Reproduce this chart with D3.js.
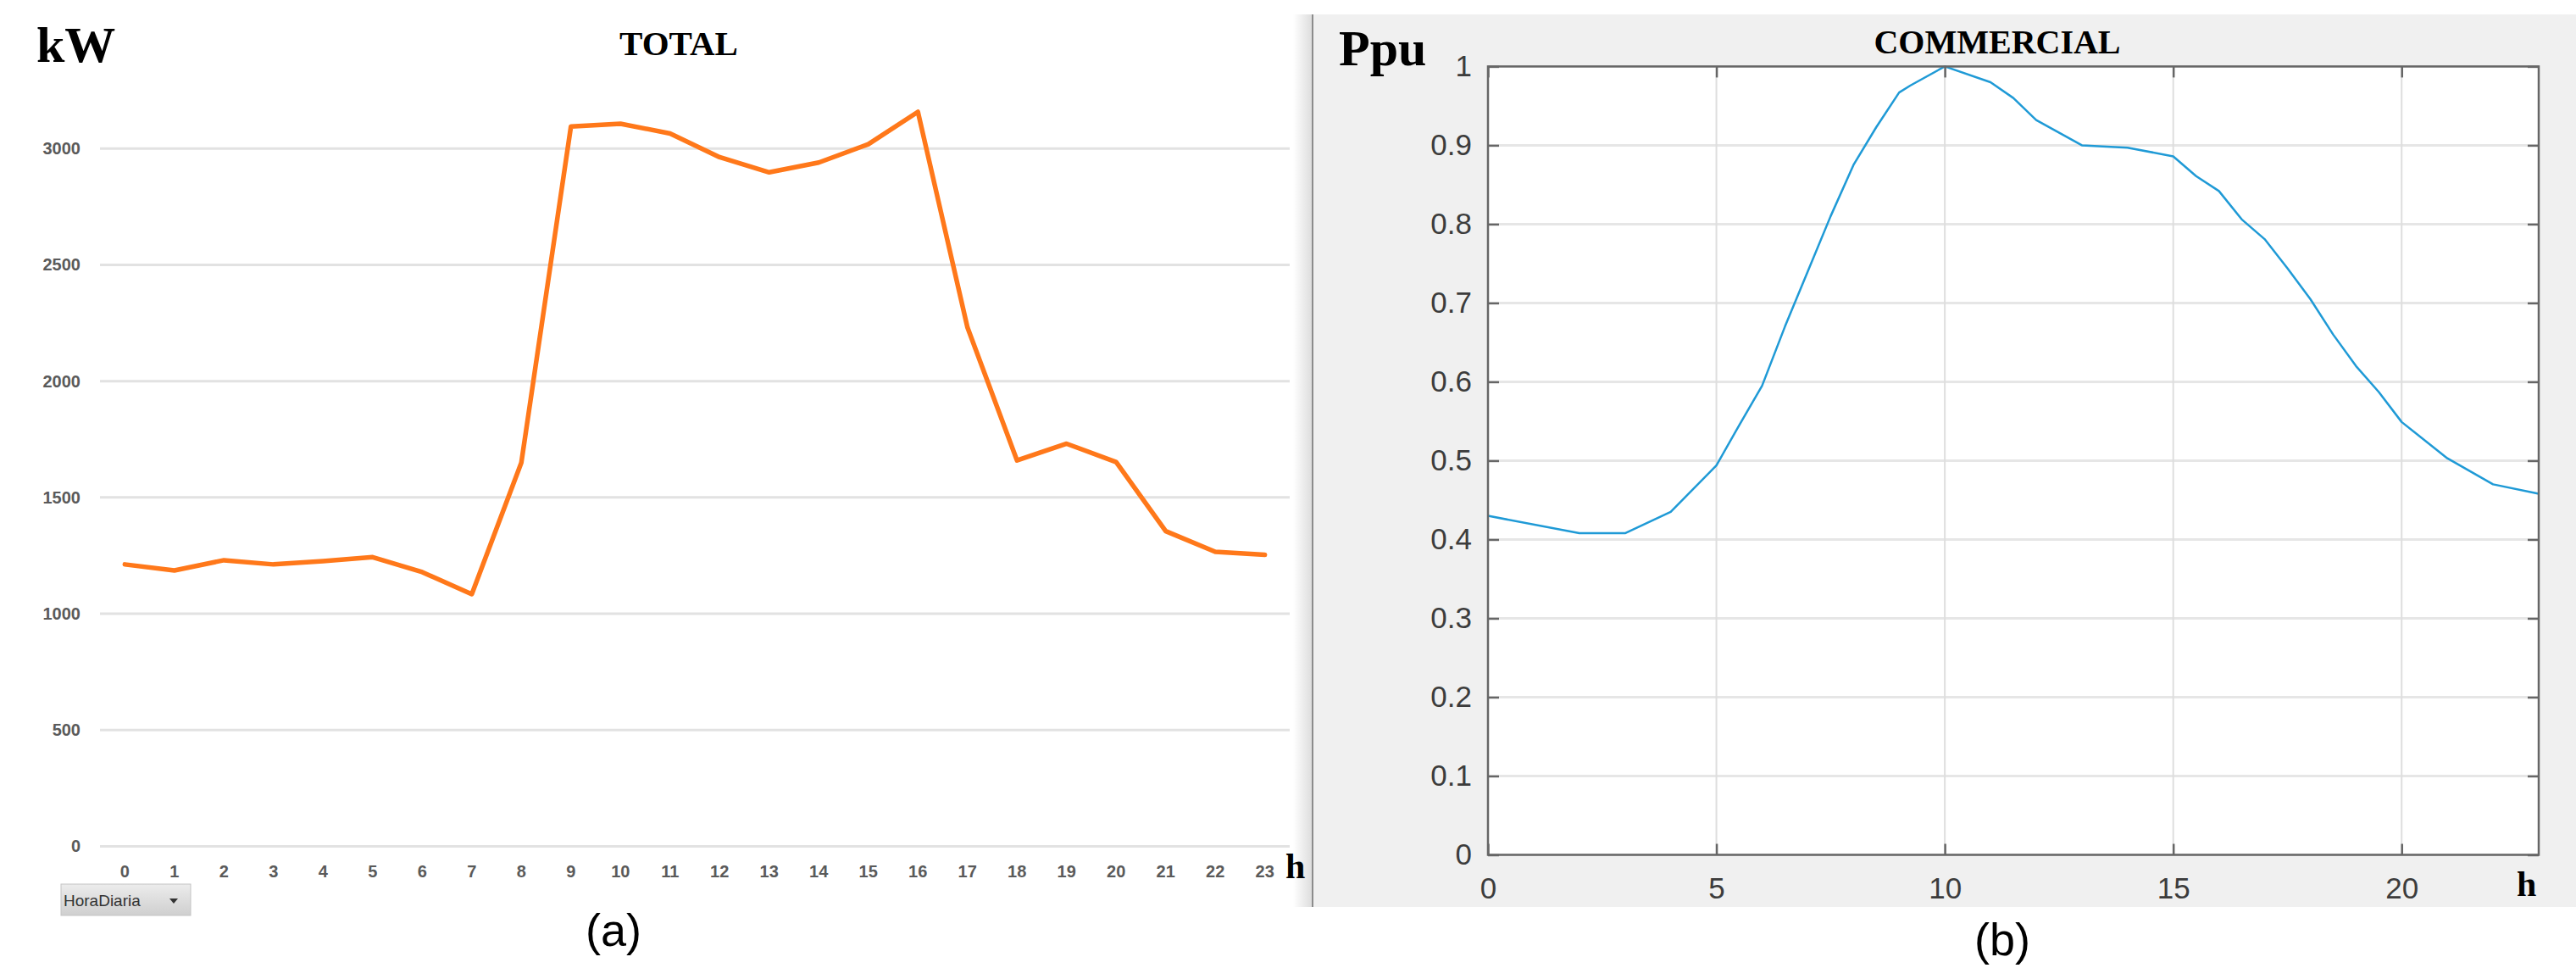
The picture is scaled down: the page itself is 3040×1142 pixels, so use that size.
<!DOCTYPE html>
<html>
<head>
<meta charset="utf-8">
<script src="https://cdn.jsdelivr.net/npm/d3@7"></script>
<style>
  body { margin: 0; background: #fff; }
  svg { display: block; }
</style>
</head>
<body>
<div id="vis"></div>
<script>
// ---- data ----
const totalHours = d3.range(0, 24);
const totalKW = [1212, 1186, 1230, 1212, 1226, 1243, 1179, 1084, 1650, 3095, 3107, 3065,
                 2963, 2898, 2940, 3019, 3158, 2231, 1659, 1731, 1652, 1355, 1266, 1253];
const totalTicks = [0, 500, 1000, 1500, 2000, 2500, 3000];

const commHours = [0, 2, 3, 4, 5, 5.5, 6, 6.5, 7, 7.5, 8, 8.5, 9, 9.25, 10, 11, 11.5, 12,
                   13, 14, 15, 15.5, 16, 16.5, 17, 17.5, 18, 18.5, 19, 19.5, 20, 21, 22, 23];
const commPpu = [0.430, 0.408, 0.408, 0.435, 0.494, 0.545, 0.595, 0.670, 0.740, 0.810, 0.875,
                 0.923, 0.967, 0.976, 1.000, 0.980, 0.960, 0.932, 0.900, 0.897, 0.886, 0.861,
                 0.842, 0.806, 0.781, 0.744, 0.705, 0.660, 0.620, 0.587, 0.549, 0.503, 0.470, 0.458];
const commYTicks = d3.range(0, 11).map(d => d / 10);
const commXTicks = [0, 5, 10, 15, 20];

const W = 3040, H = 1142;
const serif = "'Liberation Serif', 'Times New Roman', serif";
const sans = "'Liberation Sans', Arial, sans-serif";

let svg = d3.select("#vis")
    .append("svg")
    .attr("width", W)
    .attr("height", H);

svg.append("rect").attr("width", W).attr("height", H).attr("fill", "#fff");

let defs = svg.append("defs");
let shade = defs.append("linearGradient").attr("id", "shade");
shade.append("stop").attr("offset", "0").attr("stop-color", "#fff");
shade.append("stop").attr("offset", "1").attr("stop-color", "#dcdcdc");
let btn = defs.append("linearGradient").attr("id", "btn")
    .attr("x1", 0).attr("x2", 0).attr("y1", 0).attr("y2", 1);
btn.append("stop").attr("offset", "0").attr("stop-color", "#ececec");
btn.append("stop").attr("offset", "1").attr("stop-color", "#cfcfcf");

// soft edge between the two panels
svg.append("rect")
    .attr("x", 1526).attr("y", 17).attr("width", 23).attr("height", 1053)
    .attr("fill", "url(#shade)");

////////// (a) TOTAL //////////

let xa = d3.scalePoint()
    .domain(totalHours)
    .range([147.3, 1492.7]);

let ya = d3.scaleLinear()
    .domain([0, 3000])
    .range([998.4, 175.3]);

let left = svg.append("g").attr("class", "total");

left.selectAll(".grid")
    .data(totalTicks)
    .enter()
    .append("line")
    .attr("class", "grid")
    .attr("x1", 118).attr("x2", 1522)
    .attr("y1", d => ya(d)).attr("y2", d => ya(d))
    .attr("stroke", "#e2e2e2")
    .attr("stroke-width", 3);

left.selectAll(".ylab")
    .data(totalTicks)
    .enter()
    .append("text")
    .attr("class", "ylab")
    .attr("x", 95)
    .attr("y", d => ya(d))
    .attr("dy", "0.35em")
    .attr("text-anchor", "end")
    .attr("font-family", sans)
    .attr("font-weight", "bold")
    .attr("font-size", 20)
    .attr("fill", "#5a5a5a")
    .text(d => d);

left.selectAll(".xlab")
    .data(totalHours)
    .enter()
    .append("text")
    .attr("class", "xlab")
    .attr("x", d => xa(d))
    .attr("y", 1028)
    .attr("dy", "0.35em")
    .attr("text-anchor", "middle")
    .attr("font-family", sans)
    .attr("font-weight", "bold")
    .attr("font-size", 20)
    .attr("fill", "#5a5a5a")
    .text(d => d);

left.append("path")
    .datum(totalKW)
    .attr("fill", "none")
    .attr("stroke", "#ff781a")
    .attr("stroke-width", 5.5)
    .attr("stroke-linejoin", "round")
    .attr("stroke-linecap", "round")
    .attr("d", d3.line().x((d, i) => xa(totalHours[i])).y(d => ya(d)));

left.append("text")
    .attr("x", 43).attr("y", 73)
    .attr("font-family", serif).attr("font-weight", "bold").attr("font-size", 60)
    .text("kW");

left.append("text")
    .attr("x", 801).attr("y", 65)
    .attr("text-anchor", "middle")
    .attr("font-family", serif).attr("font-weight", "bold").attr("font-size", 41)
    .text("TOTAL");

left.append("text")
    .attr("x", 1517).attr("y", 1036)
    .attr("font-family", serif).attr("font-weight", "bold").attr("font-size", 42)
    .text("h");

// pivot field button
let button = left.append("g").attr("transform", "translate(72,1043)");
button.append("rect")
    .attr("width", 153).attr("height", 37)
    .attr("fill", "url(#btn)")
    .attr("stroke", "#c4c4c4");
button.append("text")
    .attr("x", 3).attr("y", 26)
    .attr("font-family", sans).attr("font-size", 19)
    .attr("fill", "#333")
    .text("HoraDiaria");
button.append("path")
    .attr("d", "M128,17 L138,17 L133,23 Z")
    .attr("fill", "#333");

left.append("text")
    .attr("x", 724).attr("y", 1116)
    .attr("text-anchor", "middle")
    .attr("font-family", sans).attr("font-size", 54)
    .text("(a)");

////////// (b) COMMERCIAL //////////

let right = svg.append("g").attr("class", "commercial");

right.append("rect")
    .attr("x", 1549).attr("y", 17)
    .attr("width", W - 1549).attr("height", 1053)
    .attr("fill", "#f0f0f0");

right.append("line")
    .attr("x1", 1549).attr("x2", 1549).attr("y1", 17).attr("y2", 1070)
    .attr("stroke", "#8c8c8c").attr("stroke-width", 2);

let xb = d3.scaleLinear()
    .domain([0, 23])
    .range([1756, 2996]);

let yb = d3.scaleLinear()
    .domain([0, 1])
    .range([1008.5, 78.4]);

right.append("rect")
    .attr("x", xb(0)).attr("y", yb(1))
    .attr("width", xb(23) - xb(0)).attr("height", yb(0) - yb(1))
    .attr("fill", "#fff");

right.selectAll(".hgrid")
    .data(commYTicks)
    .enter()
    .append("line")
    .attr("class", "hgrid")
    .attr("x1", xb(0)).attr("x2", xb(23))
    .attr("y1", d => yb(d)).attr("y2", d => yb(d))
    .attr("stroke", "#e6e6e6")
    .attr("stroke-width", 3);

right.selectAll(".vgrid")
    .data(commXTicks.slice(1))
    .enter()
    .append("line")
    .attr("class", "vgrid")
    .attr("x1", d => xb(d)).attr("x2", d => xb(d))
    .attr("y1", yb(0)).attr("y2", yb(1))
    .attr("stroke", "#dedede")
    .attr("stroke-width", 2);

right.append("path")
    .datum(commPpu)
    .attr("fill", "none")
    .attr("stroke", "#1f9ad6")
    .attr("stroke-width", 2.5)
    .attr("stroke-linejoin", "round")
    .attr("d", d3.line().x((d, i) => xb(commHours[i])).y(d => yb(d)));

const styleAxis = g => {
    g.select(".domain").remove();
    g.selectAll(".tick line").attr("stroke", "#666").attr("stroke-width", 2.5);
    g.selectAll(".tick text")
        .attr("font-family", sans)
        .attr("font-size", 35)
        .attr("fill", "#3c3c3c");
};

right.append("g")
    .attr("transform", "translate(" + xb(0) + ",0)")
    .call(d3.axisLeft(yb).tickValues(commYTicks).tickFormat(d3.format("~g"))
        .tickSizeInner(-13).tickSizeOuter(0).tickPadding(19))
    .call(styleAxis);

right.append("g")
    .attr("transform", "translate(" + xb(23) + ",0)")
    .call(d3.axisRight(yb).tickValues(commYTicks).tickFormat("")
        .tickSizeInner(-13).tickSizeOuter(0))
    .call(styleAxis);

right.append("g")
    .attr("transform", "translate(0," + yb(0) + ")")
    .call(d3.axisBottom(xb).tickValues(commXTicks).tickFormat(d3.format("d"))
        .tickSizeInner(-13).tickSizeOuter(0).tickPadding(27))
    .call(styleAxis);

right.append("g")
    .attr("transform", "translate(0," + yb(1) + ")")
    .call(d3.axisTop(xb).tickValues(commXTicks).tickFormat("")
        .tickSizeInner(-13).tickSizeOuter(0))
    .call(styleAxis);

// box
right.append("rect")
    .attr("x", xb(0)).attr("y", yb(1))
    .attr("width", xb(23) - xb(0)).attr("height", yb(0) - yb(1))
    .attr("fill", "none")
    .attr("stroke", "#666")
    .attr("stroke-width", 2.5);

right.append("text")
    .attr("x", 1580).attr("y", 77)
    .attr("font-family", serif).attr("font-weight", "bold").attr("font-size", 60)
    .text("Ppu");

right.append("text")
    .attr("x", 2357).attr("y", 63)
    .attr("text-anchor", "middle")
    .attr("font-family", serif).attr("font-weight", "bold").attr("font-size", 40)
    .text("COMMERCIAL");

right.append("text")
    .attr("x", 2970).attr("y", 1057)
    .attr("font-family", serif).attr("font-weight", "bold").attr("font-size", 42)
    .text("h");

svg.append("text")
    .attr("x", 2363).attr("y", 1127)
    .attr("text-anchor", "middle")
    .attr("font-family", sans).attr("font-size", 54)
    .text("(b)");
</script>
</body>
</html>
